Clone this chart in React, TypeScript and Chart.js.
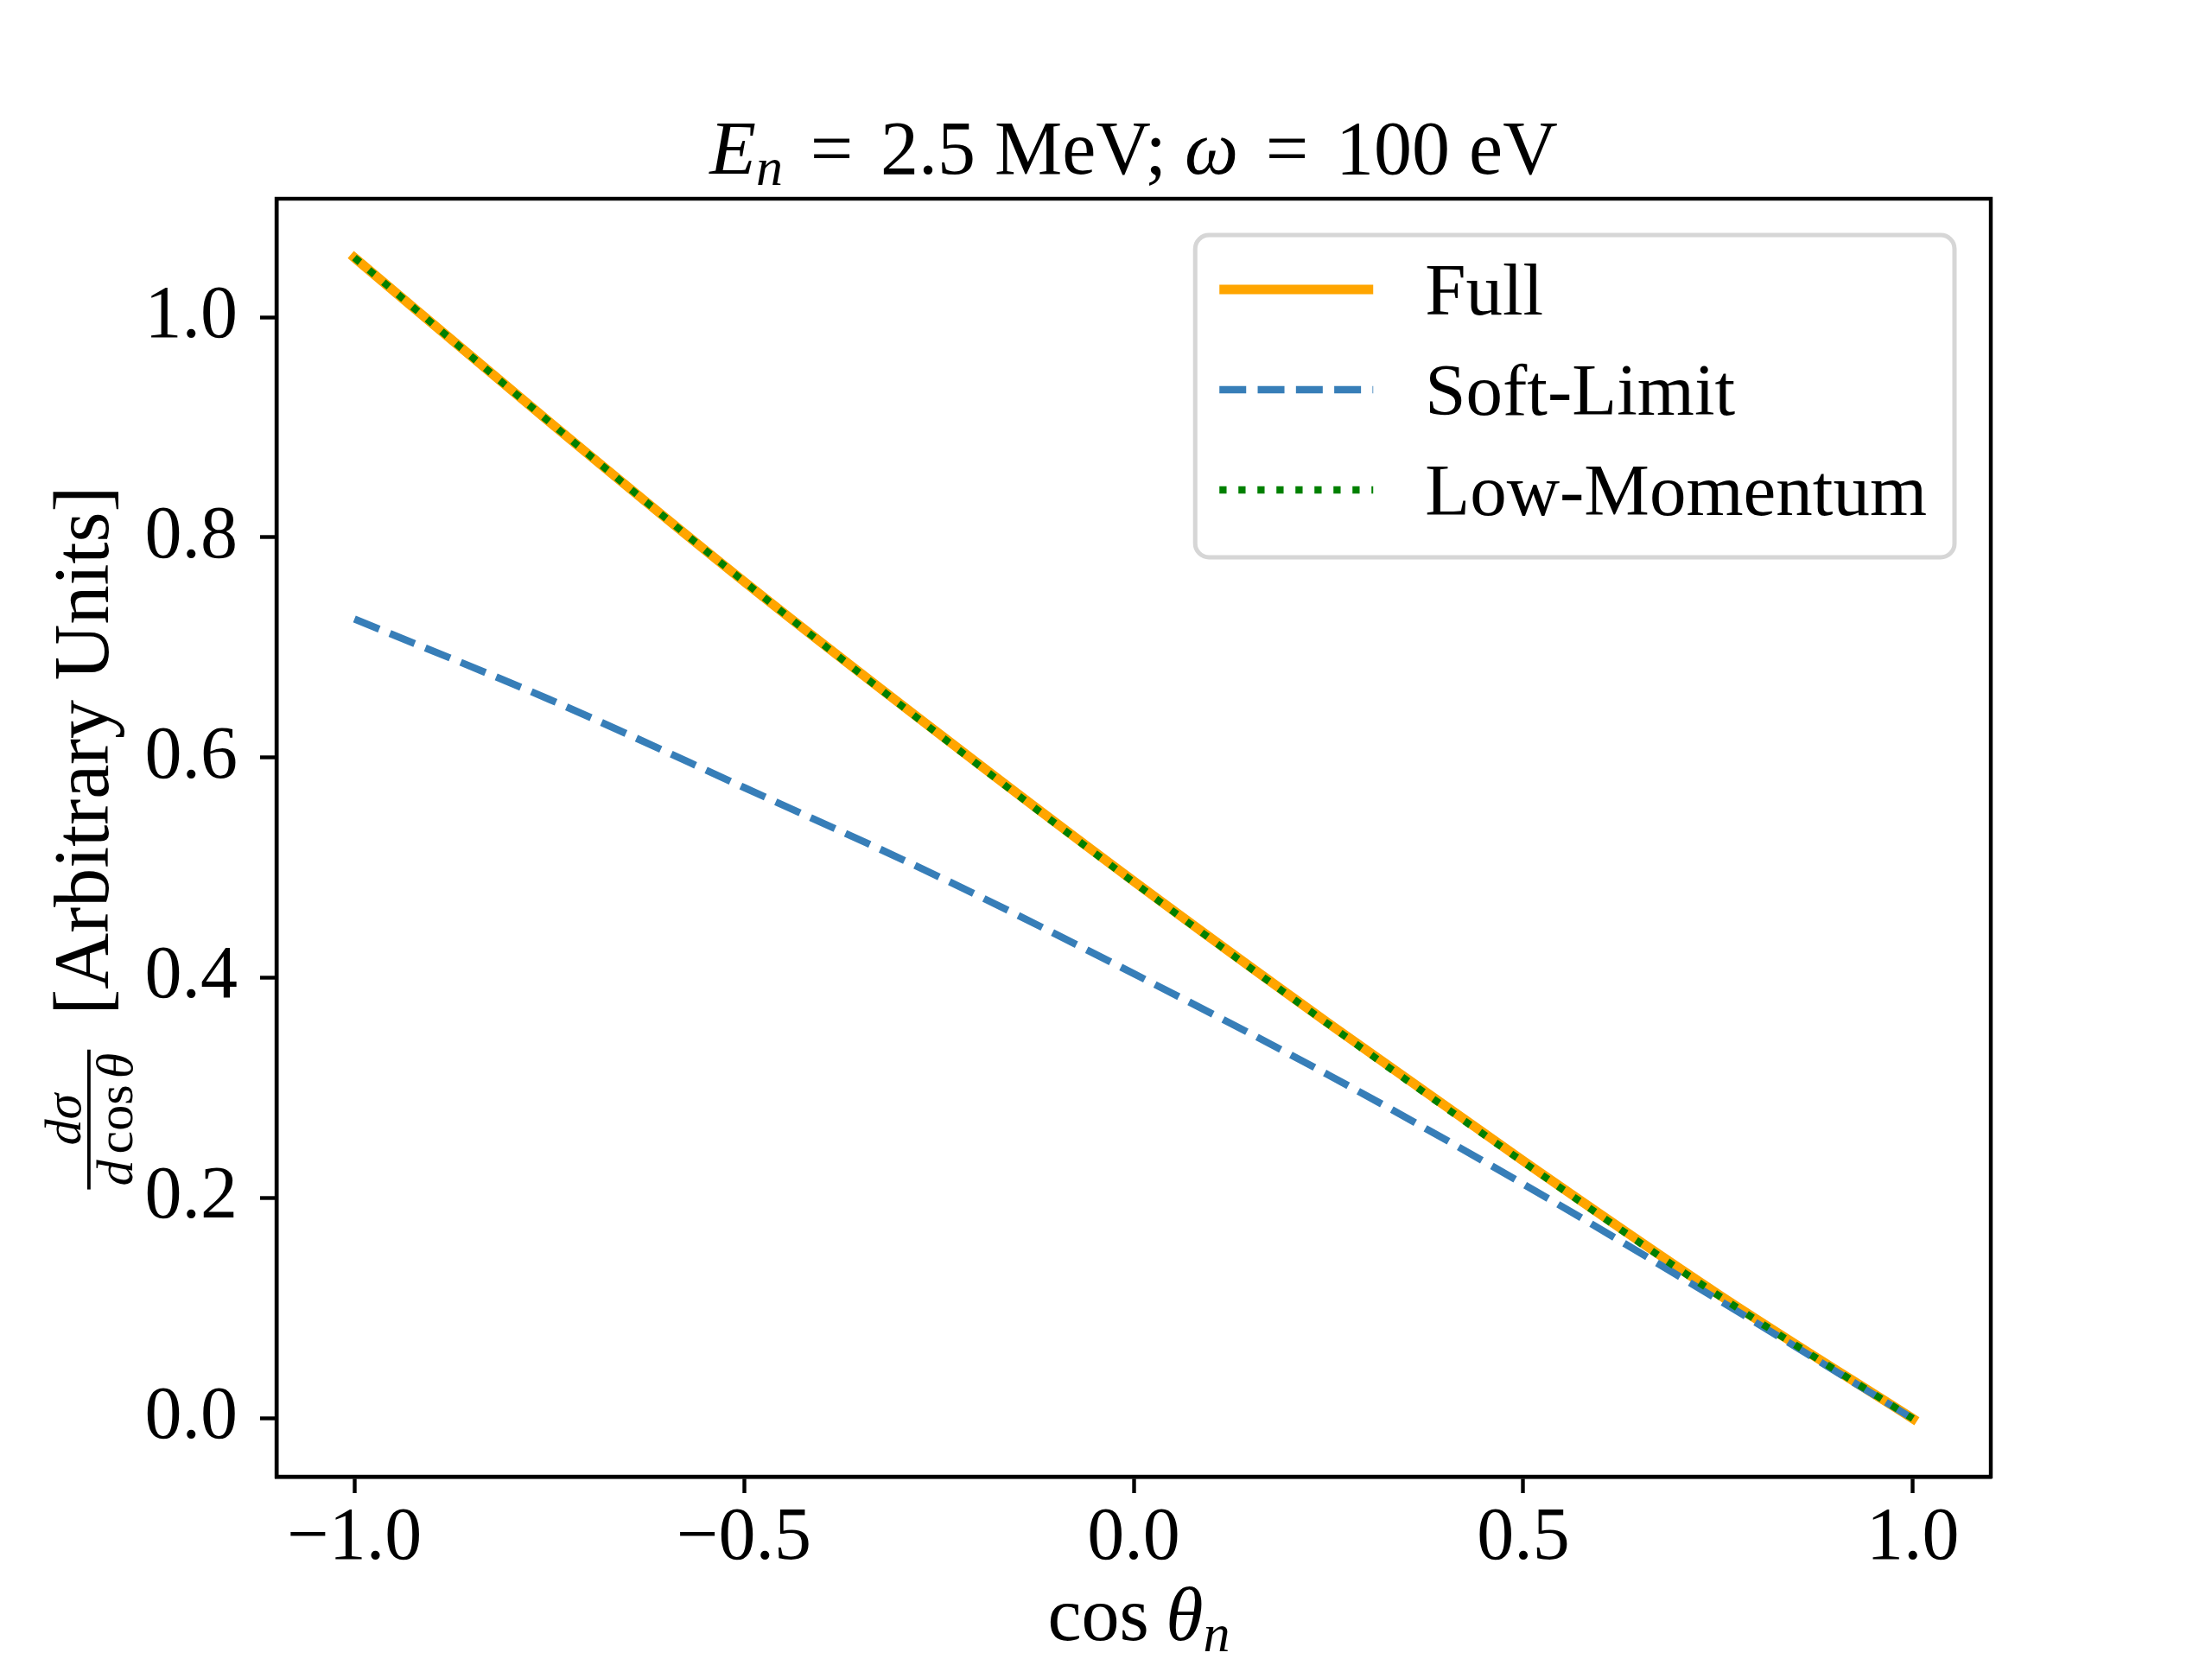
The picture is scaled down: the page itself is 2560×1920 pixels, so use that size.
import React, { useEffect, useRef } from 'react';
import { Chart, registerables } from 'chart.js';

Chart.register(...registerables);

// values (cos theta_n -> dsigma / dcos theta)
const cosTheta = [-1, -0.75, -0.5, -0.25, 0, 0.25, 0.5, 0.75, 1];
const fullValues = [1.054, 0.905, 0.76, 0.622, 0.488, 0.359, 0.234, 0.113, 0.0];
const softLimitValues = [0.726, 0.653, 0.573, 0.492, 0.404, 0.312, 0.213, 0.108, 0.0];
const lowMomentumValues = [1.054, 0.905, 0.76, 0.621, 0.487, 0.358, 0.233, 0.112, 0.0];
const seriesNames = ['Full', 'Soft-Limit', 'Low-Momentum'];
const xTicks = [-1, -0.5, 0, 0.5, 1];
const yTicks = [0, 0.2, 0.4, 0.6, 0.8, 1.0];

const SERIF = '"Liberation Serif", "DejaVu Serif", serif';

type Run = { t: string; italic?: boolean; scale?: number; dy?: number; gap?: number };

const fontOf = (r: Run, base: number) =>
  `${r.italic ? 'italic ' : ''}${Math.round(base * (r.scale ?? 1))}px ${SERIF}`;

const runsWidth = (ctx: CanvasRenderingContext2D, runs: Run[], base: number) => {
  let w = 0;
  runs.forEach((r) => {
    ctx.font = fontOf(r, base);
    w += (r.gap ?? 0) * base + ctx.measureText(r.t).width;
  });
  return w;
};

const drawRuns = (ctx: CanvasRenderingContext2D, runs: Run[], x: number, y: number, base: number) => {
  let cx = x;
  ctx.textAlign = 'left';
  ctx.textBaseline = 'alphabetic';
  runs.forEach((r) => {
    cx += (r.gap ?? 0) * base;
    ctx.font = fontOf(r, base);
    ctx.fillText(r.t, cx, y + (r.dy ?? 0));
    cx += ctx.measureText(r.t).width;
  });
  return cx;
};

const titleRuns: Run[] = [
  { t: 'E', italic: true },
  { t: 'n', italic: true, scale: 0.7, dy: 13 },
  { t: '=', gap: 0.36 },
  { t: '2.5 MeV;', gap: 0.36 },
  { t: 'ω', italic: true, gap: 0.24 },
  { t: '=', gap: 0.36 },
  { t: '100 eV', gap: 0.36 }
];

const xLabelRuns: Run[] = [
  { t: 'cos' },
  { t: 'θ', italic: true, gap: 0.22 },
  { t: 'n', italic: true, scale: 0.7, dy: 13 }
];

const fracNum: Run[] = [{ t: 'd', italic: true }, { t: 'σ', italic: true }];
const fracDen: Run[] = [{ t: 'd', italic: true }, { t: 'cos', gap: 0.12 }, { t: 'θ', italic: true, gap: 0.12 }];
const yLabelText: Run[] = [{ t: '[Arbitrary Units]' }];

const fmtTick = (v: number) => v.toFixed(1).replace('-', '\u2212');

const overlayPlugin = {
  id: 'overlay',
  afterDatasetsDraw(chart: Chart) {
    const { ctx, chartArea } = chart;
    ctx.save();
    ctx.strokeStyle = '#000';
    ctx.lineWidth = 4.4;
    ctx.strokeRect(chartArea.left, chartArea.top, chartArea.right - chartArea.left, chartArea.bottom - chartArea.top);
    ctx.restore();
  },
  afterDraw(chart: Chart) {
    const { ctx, chartArea } = chart;
    const midX = (chartArea.left + chartArea.right) / 2;
    const midY = (chartArea.top + chartArea.bottom) / 2;
    ctx.save();
    ctx.fillStyle = '#000';

    // title
    const tBase = 88;
    const tw = runsWidth(ctx, titleRuns, tBase);
    drawRuns(ctx, titleRuns, midX - tw / 2, chartArea.top - 29, tBase);

    // x label
    const xw = runsWidth(ctx, xLabelRuns, 88);
    drawRuns(ctx, xLabelRuns, midX + 6 - xw / 2, chartArea.bottom + 189, 88);

    // y label (rotated)
    const fBase = 60;
    const numW = runsWidth(ctx, fracNum, fBase);
    const denW = runsWidth(ctx, fracDen, fBase);
    const fracW = Math.max(numW, denW) + 8;
    const gapW = 40;
    const lBaseY = 90;
    const textW = runsWidth(ctx, yLabelText, lBaseY);
    const total = fracW + gapW + textW;
    ctx.translate(chartArea.left - 195, midY);
    ctx.rotate(-Math.PI / 2);
    const x0 = -total / 2;
    drawRuns(ctx, fracNum, x0 + (fracW - numW) / 2, -32, fBase);
    drawRuns(ctx, fracDen, x0 + (fracW - denW) / 2, 28, fBase);
    ctx.fillRect(x0, -24, fracW, 3.8);
    drawRuns(ctx, yLabelText, x0 + fracW + gapW, 0, lBaseY);
    ctx.restore();

    // legend
    const lBase = 85;
    ctx.save();
    ctx.font = `${lBase}px ${SERIF}`;
    const maxText = Math.max(...seriesNames.map((n) => ctx.measureText(n).width));
    const padL = 28;
    const handleW = 178;
    const handleGap = 60;
    const rowH = 116;
    const boxW = padL + handleW + handleGap + maxText + 32;
    const boxH = 63 + rowH * (seriesNames.length - 1) + 78;
    const bx = chartArea.right - 42 - boxW;
    const by = chartArea.top + 42;
    ctx.beginPath();
    ctx.roundRect(bx, by, boxW, boxH, 16);
    ctx.fillStyle = 'rgba(255,255,255,0.8)';
    ctx.fill();
    ctx.lineWidth = 5;
    ctx.strokeStyle = '#d6d6d6';
    ctx.stroke();
    chart.data.datasets.forEach((ds: any, i: number) => {
      const cy = by + 63 + i * rowH;
      ctx.beginPath();
      ctx.setLineDash(ds.borderDash || []);
      ctx.lineCap = ds.borderCapStyle === 'square' ? 'butt' : ds.borderCapStyle || 'butt';
      ctx.lineWidth = ds.borderWidth;
      ctx.strokeStyle = ds.borderColor;
      ctx.moveTo(bx + padL, cy);
      ctx.lineTo(bx + padL + handleW, cy);
      ctx.stroke();
      ctx.setLineDash([]);
      ctx.fillStyle = '#000';
      ctx.font = `${lBase}px ${SERIF}`;
      ctx.textAlign = 'left';
      ctx.textBaseline = 'alphabetic';
      ctx.fillText(seriesNames[i], bx + padL + handleW + handleGap, cy + 29);
    });
    ctx.restore();
  }
};

const toPoints = (ys: number[]) => cosTheta.map((x, i) => ({ x, y: ys[i] }));

const App: React.FC = () => {
  const canvasRef = useRef<HTMLCanvasElement>(null);

  useEffect(() => {
    document.body.style.margin = '0';
    const ctx = canvasRef.current?.getContext('2d');
    if (!ctx) return;

    const axisFont = { family: SERIF, size: 86 };

    const chart = new Chart(ctx, {
      type: 'line',
      data: {
        datasets: [
          {
            label: seriesNames[0],
            data: toPoints(fullValues),
            borderColor: '#ffa500',
            borderWidth: 11,
            borderCapStyle: 'square',
            pointRadius: 0,
            cubicInterpolationMode: 'monotone',
            order: 3
          },
          {
            label: seriesNames[1],
            data: toPoints(softLimitValues),
            borderColor: '#377eb8',
            borderWidth: 8.3,
            borderDash: [31, 13.3],
            borderCapStyle: 'butt',
            pointRadius: 0,
            cubicInterpolationMode: 'monotone',
            order: 2
          },
          {
            label: seriesNames[2],
            data: toPoints(lowMomentumValues),
            borderColor: '#008000',
            borderWidth: 8.3,
            borderDash: [8.3, 13.7],
            borderCapStyle: 'butt',
            pointRadius: 0,
            cubicInterpolationMode: 'monotone',
            order: 1
          }
        ]
      },
      options: {
        responsive: false,
        devicePixelRatio: 1,
        animation: false,
        layout: { padding: { top: 230, right: 256, left: 0, bottom: 0 } },
        plugins: {
          legend: { display: false },
          title: { display: false },
          tooltip: { enabled: false }
        },
        scales: {
          x: {
            type: 'linear',
            min: -1.1,
            max: 1.1,
            afterBuildTicks: (scale: any) => {
              scale.ticks = xTicks.map((value) => ({ value }));
            },
            afterFit: (scale: any) => {
              scale.height = 211;
            },
            ticks: {
              color: '#000',
              font: axisFont,
              padding: 2,
              maxRotation: 0,
              autoSkip: false,
              callback: (v: any) => fmtTick(Number(v))
            },
            grid: {
              drawOnChartArea: false,
              tickLength: 19,
              tickWidth: 4.4,
              tickColor: '#000'
            },
            border: { display: true, color: '#000', width: 4.4 }
          },
          y: {
            type: 'linear',
            min: -0.0527,
            max: 1.1075,
            afterBuildTicks: (scale: any) => {
              scale.ticks = yTicks.map((value) => ({ value }));
            },
            afterFit: (scale: any) => {
              scale.width = 320;
            },
            ticks: {
              color: '#000',
              font: axisFont,
              padding: 26,
              autoSkip: false,
              callback: (v: any) => fmtTick(Number(v))
            },
            grid: {
              drawOnChartArea: false,
              tickLength: 19,
              tickWidth: 4.4,
              tickColor: '#000'
            },
            border: { display: true, color: '#000', width: 4.4 }
          }
        }
      },
      plugins: [overlayPlugin]
    });

    return () => {
      chart.destroy();
    };
  }, []);

  return (
    <div style={{ width: 2560, height: 1920, background: '#fff' }}>
      <canvas ref={canvasRef} width={2560} height={1920} style={{ display: 'block' }} />
    </div>
  );
};

export default App;
